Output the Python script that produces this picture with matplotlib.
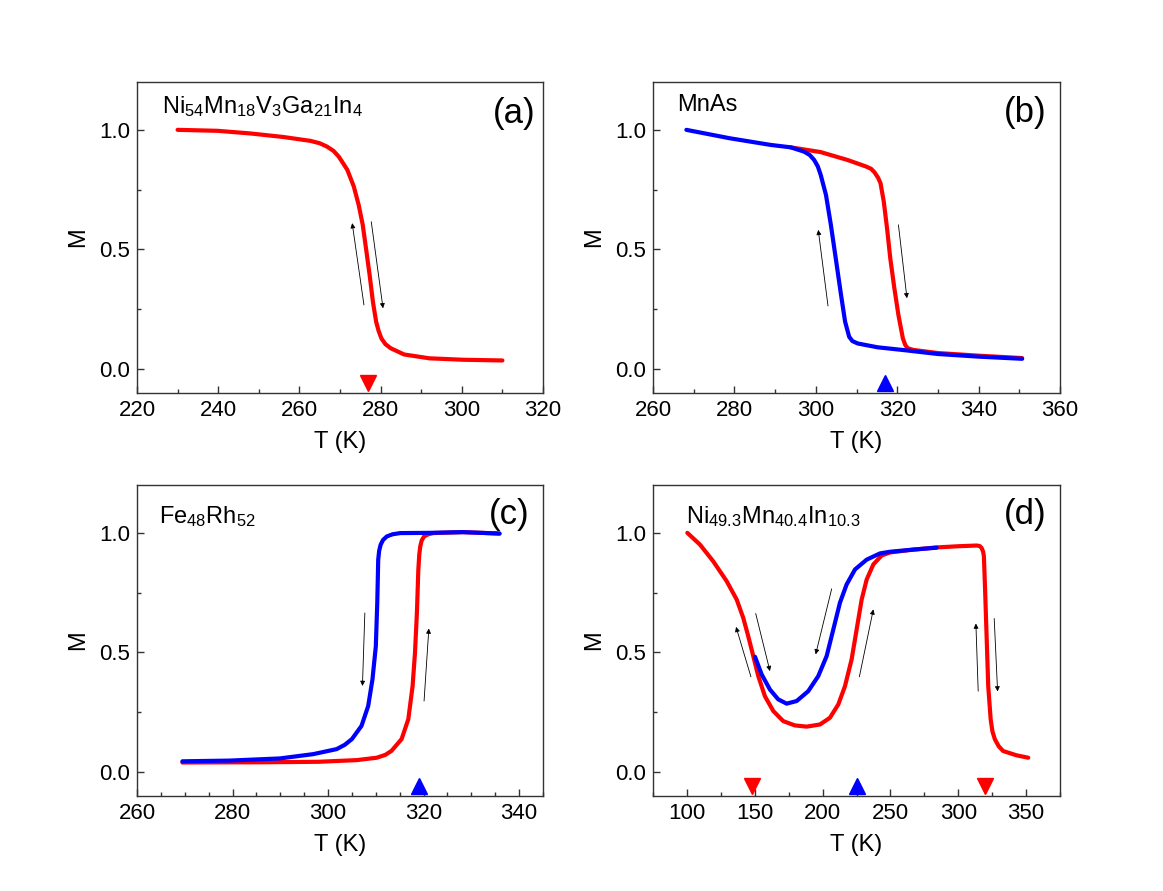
import numpy as np
import matplotlib.pyplot as plt
from matplotlib.ticker import MultipleLocator

plt.rcParams['font.family'] = ['Liberation Sans', 'DejaVu Sans']
plt.rcParams['mathtext.fontset'] = 'custom'
plt.rcParams['mathtext.rm'] = 'Liberation Sans'

RED = '#ff0000'
BLUE = '#0000ff'

# (a) Ni54Mn18V3Ga21In4
a_T = [230.0, 239.8, 247.9, 256.1, 262.7, 265.0, 266.8, 268.4, 269.7, 271.8, 273.4,
       274.6, 275.6, 276.4, 277.3, 278.1, 278.9, 279.5, 280.2, 281.2, 282.5, 285.8,
       292.0, 300.2, 310.0]
a_M = [1.0, 0.996, 0.985, 0.970, 0.954, 0.944, 0.930, 0.912, 0.888, 0.833, 0.763,
       0.686, 0.603, 0.505, 0.393, 0.282, 0.198, 0.160, 0.128, 0.104, 0.087, 0.061,
       0.045, 0.039, 0.036]

# (b) MnAs
b_T_blue = [268.2, 278.8, 288.9, 293.8, 297.1, 298.5, 299.6, 300.5, 301.2, 302.5,
            303.7, 304.9, 306.2, 307.2, 308.2, 309.0, 310.3, 315.2, 321.8, 330.0,
            340.0, 350.7]
b_M_blue = [1.0, 0.965, 0.937, 0.927, 0.909, 0.895, 0.874, 0.847, 0.812, 0.728,
            0.603, 0.463, 0.310, 0.198, 0.135, 0.117, 0.107, 0.091, 0.079, 0.063,
            0.052, 0.043]
b_T_red = [293.8, 301.2, 307.8, 312.3, 313.6, 314.4, 315.3, 315.9, 316.7, 317.5,
           318.3, 319.3, 320.3, 321.4, 322.0, 322.6, 324.0, 330.0, 340.0, 350.7]
b_M_red = [0.927, 0.907, 0.874, 0.847, 0.837, 0.823, 0.800, 0.777, 0.700, 0.589,
           0.463, 0.338, 0.226, 0.128, 0.100, 0.087, 0.080, 0.067, 0.056, 0.046]

# (c) Fe48Rh52
c_T_blue = [269.5, 279.4, 289.9, 296.9, 301.8, 303.5, 305.0, 307.0, 308.4, 309.3,
            310.0, 310.3, 310.5, 310.7, 311.0, 311.5, 312.3, 313.5, 315.1, 321.3,
            328.2, 335.9]
c_M_blue = [0.045, 0.048, 0.057, 0.075, 0.096, 0.114, 0.138, 0.193, 0.276, 0.388,
            0.526, 0.707, 0.888, 0.925, 0.950, 0.970, 0.985, 0.994, 0.999, 1.0,
            1.003, 0.997]
c_T_red = [269.5, 286.4, 298.0, 306.0, 310.2, 312.0, 313.3, 315.4, 316.8, 317.7,
           318.2, 318.6, 318.9, 319.1, 319.3, 319.6, 320.1, 321.0, 322.0, 328.2,
           335.9]
c_M_red = [0.040, 0.041, 0.043, 0.050, 0.060, 0.072, 0.089, 0.138, 0.221, 0.360,
           0.499, 0.665, 0.846, 0.910, 0.943, 0.968, 0.985, 0.994, 0.999, 1.003,
           0.997]

# (d) Ni49.3Mn40.4In10.3
d_T_red = [100.3, 109.6, 119.4, 129.3, 136.7, 141.5, 145.2, 148.9, 152.6, 157.5,
           163.7, 171.0, 179.6, 188.3, 198.1, 205.4, 211.6, 216.5, 221.4, 225.1,
           228.8, 232.5, 237.4, 243.5, 249.7, 267.0, 284.1, 300.0, 313.5, 315.8,
           317.2, 318.3, 318.9, 319.7, 320.9, 322.1, 323.9, 325.2, 327.0, 329.8,
           333.1, 343.0, 351.6]
d_M_red = [1.0, 0.951, 0.881, 0.798, 0.721, 0.645, 0.568, 0.485, 0.401, 0.317,
           0.255, 0.213, 0.195, 0.190, 0.199, 0.227, 0.283, 0.359, 0.471, 0.596,
           0.721, 0.805, 0.868, 0.905, 0.918, 0.930, 0.939, 0.944, 0.947, 0.945,
           0.937, 0.922, 0.902, 0.777, 0.568, 0.359, 0.220, 0.170, 0.137, 0.108,
           0.088, 0.070, 0.060]
d_T_blue = [150.2, 155.1, 161.2, 167.3, 173.5, 180.9, 189.4, 196.8, 203.0, 207.9,
            212.8, 217.7, 223.9, 232.5, 242.3, 249.7, 267.0, 284.1]
d_M_blue = [0.482, 0.408, 0.345, 0.304, 0.286, 0.297, 0.338, 0.401, 0.485, 0.596,
            0.708, 0.784, 0.847, 0.888, 0.914, 0.921, 0.930, 0.938]

fig = plt.figure(figsize=(11.63, 8.91), dpi=100)
W, H = 1163, 891

def make_ax(x0, x1, y0, y1):
    return fig.add_axes([x0 / W, 1 - y1 / H, (x1 - x0) / W, (y1 - y0) / H])

axa = make_ax(137, 543, 82, 393)
axb = make_ax(653, 1060, 82, 393)
axc = make_ax(137, 543, 485, 796)
axd = make_ax(653, 1060, 485, 796)

def style(ax, xlim, major, minor):
    ax.set_xlim(*xlim)
    ax.set_ylim(-0.1, 1.2)
    ax.xaxis.set_major_locator(MultipleLocator(major))
    ax.xaxis.set_minor_locator(MultipleLocator(minor))
    ax.yaxis.set_major_locator(MultipleLocator(0.5))
    ax.yaxis.set_minor_locator(MultipleLocator(0.25))
    ax.yaxis.set_major_formatter(plt.FormatStrFormatter('%.1f'))
    ax.tick_params(which='both', direction='in', labelsize=16, top=False, right=False,
                   color='#333333')
    ax.tick_params(which='major', length=5, width=1, pad=5)
    ax.tick_params(which='minor', length=3, width=1)
    ax.set_xlabel('T (K)', fontsize=17, labelpad=7)
    ax.set_ylabel('M', fontsize=17, labelpad=7)
    for s in ax.spines.values():
        s.set_linewidth(1)
        s.set_color('#333333')

def arrow(ax, x0, y0, x1, y1):
    ax.annotate('', xy=(x1, y1), xytext=(x0, y0),
                arrowprops=dict(arrowstyle='-|>', lw=0.6, color='k',
                                mutation_scale=7, shrinkA=0, shrinkB=0))

def label(ax, name, letter, xn, yn, xl, yl):
    ax.text(xn, yn, name, transform=ax.transAxes, fontsize=17, va='center', ha='left')
    ax.text(xl, yl, letter, transform=ax.transAxes, fontsize=25, va='center', ha='right')

lw = 3
marker_y = -0.06

def curve(ax, T, M, color):
    ax.plot(T, M, color=color, lw=lw, solid_capstyle='round', solid_joinstyle='round')

# (a)
style(axa, (220, 320), 20, 10)
curve(axa, a_T, a_M, RED)
axa.plot([277], [marker_y], 'v', color=RED, ms=12)
arrow(axa, 275.9, 0.268, 273.0, 0.61)
arrow(axa, 277.7, 0.616, 280.6, 0.254)
label(axa, r'$\mathregular{Ni_{54}Mn_{18}V_{3}Ga_{21}In_{4}}$', '(a)', 0.062, 0.92, 0.982, 0.90)

# (b)
style(axb, (260, 360), 20, 10)
curve(axb, b_T_red, b_M_red, RED)
curve(axb, b_T_blue, b_M_blue, BLUE)
axb.plot([317], [marker_y], '^', color=BLUE, ms=12)
arrow(axb, 303.0, 0.264, 300.6, 0.582)
arrow(axb, 320.3, 0.603, 322.4, 0.296)
label(axb, 'MnAs', '(b)', 0.059, 0.926, 0.966, 0.903)

# (c)
style(axc, (260, 345), 20, 5)
curve(axc, c_T_red, c_M_red, RED)
curve(axc, c_T_blue, c_M_blue, BLUE)
axc.plot([319], [marker_y], '^', color=BLUE, ms=12)
arrow(axc, 307.7, 0.665, 307.2, 0.36)
arrow(axc, 320.1, 0.297, 321.1, 0.60)
label(axc, r'$\mathregular{Fe_{48}Rh_{52}}$', '(c)', 0.054, 0.897, 0.966, 0.904)

# (d)
style(axd, (75, 375), 50, 25)
curve(axd, d_T_red, d_M_red, RED)
curve(axd, d_T_blue, d_M_blue, BLUE)
axd.plot([148, 320], [marker_y, marker_y], 'v', color=RED, ms=12, ls='none')
axd.plot([225], [marker_y], '^', color=BLUE, ms=12)
arrow(axd, 147.2, 0.398, 136.2, 0.607)
arrow(axd, 150.7, 0.663, 161.2, 0.422)
arrow(axd, 206.7, 0.766, 194.9, 0.492)
arrow(axd, 227.1, 0.398, 237.4, 0.68)
arrow(axd, 314.7, 0.338, 313.0, 0.621)
arrow(axd, 326.5, 0.642, 329.0, 0.337)
label(axd, r'$\mathregular{Ni_{49.3}Mn_{40.4}In_{10.3}}$', '(d)', 0.081, 0.897, 0.966, 0.904)

fig.savefig('out.png', dpi=100)
